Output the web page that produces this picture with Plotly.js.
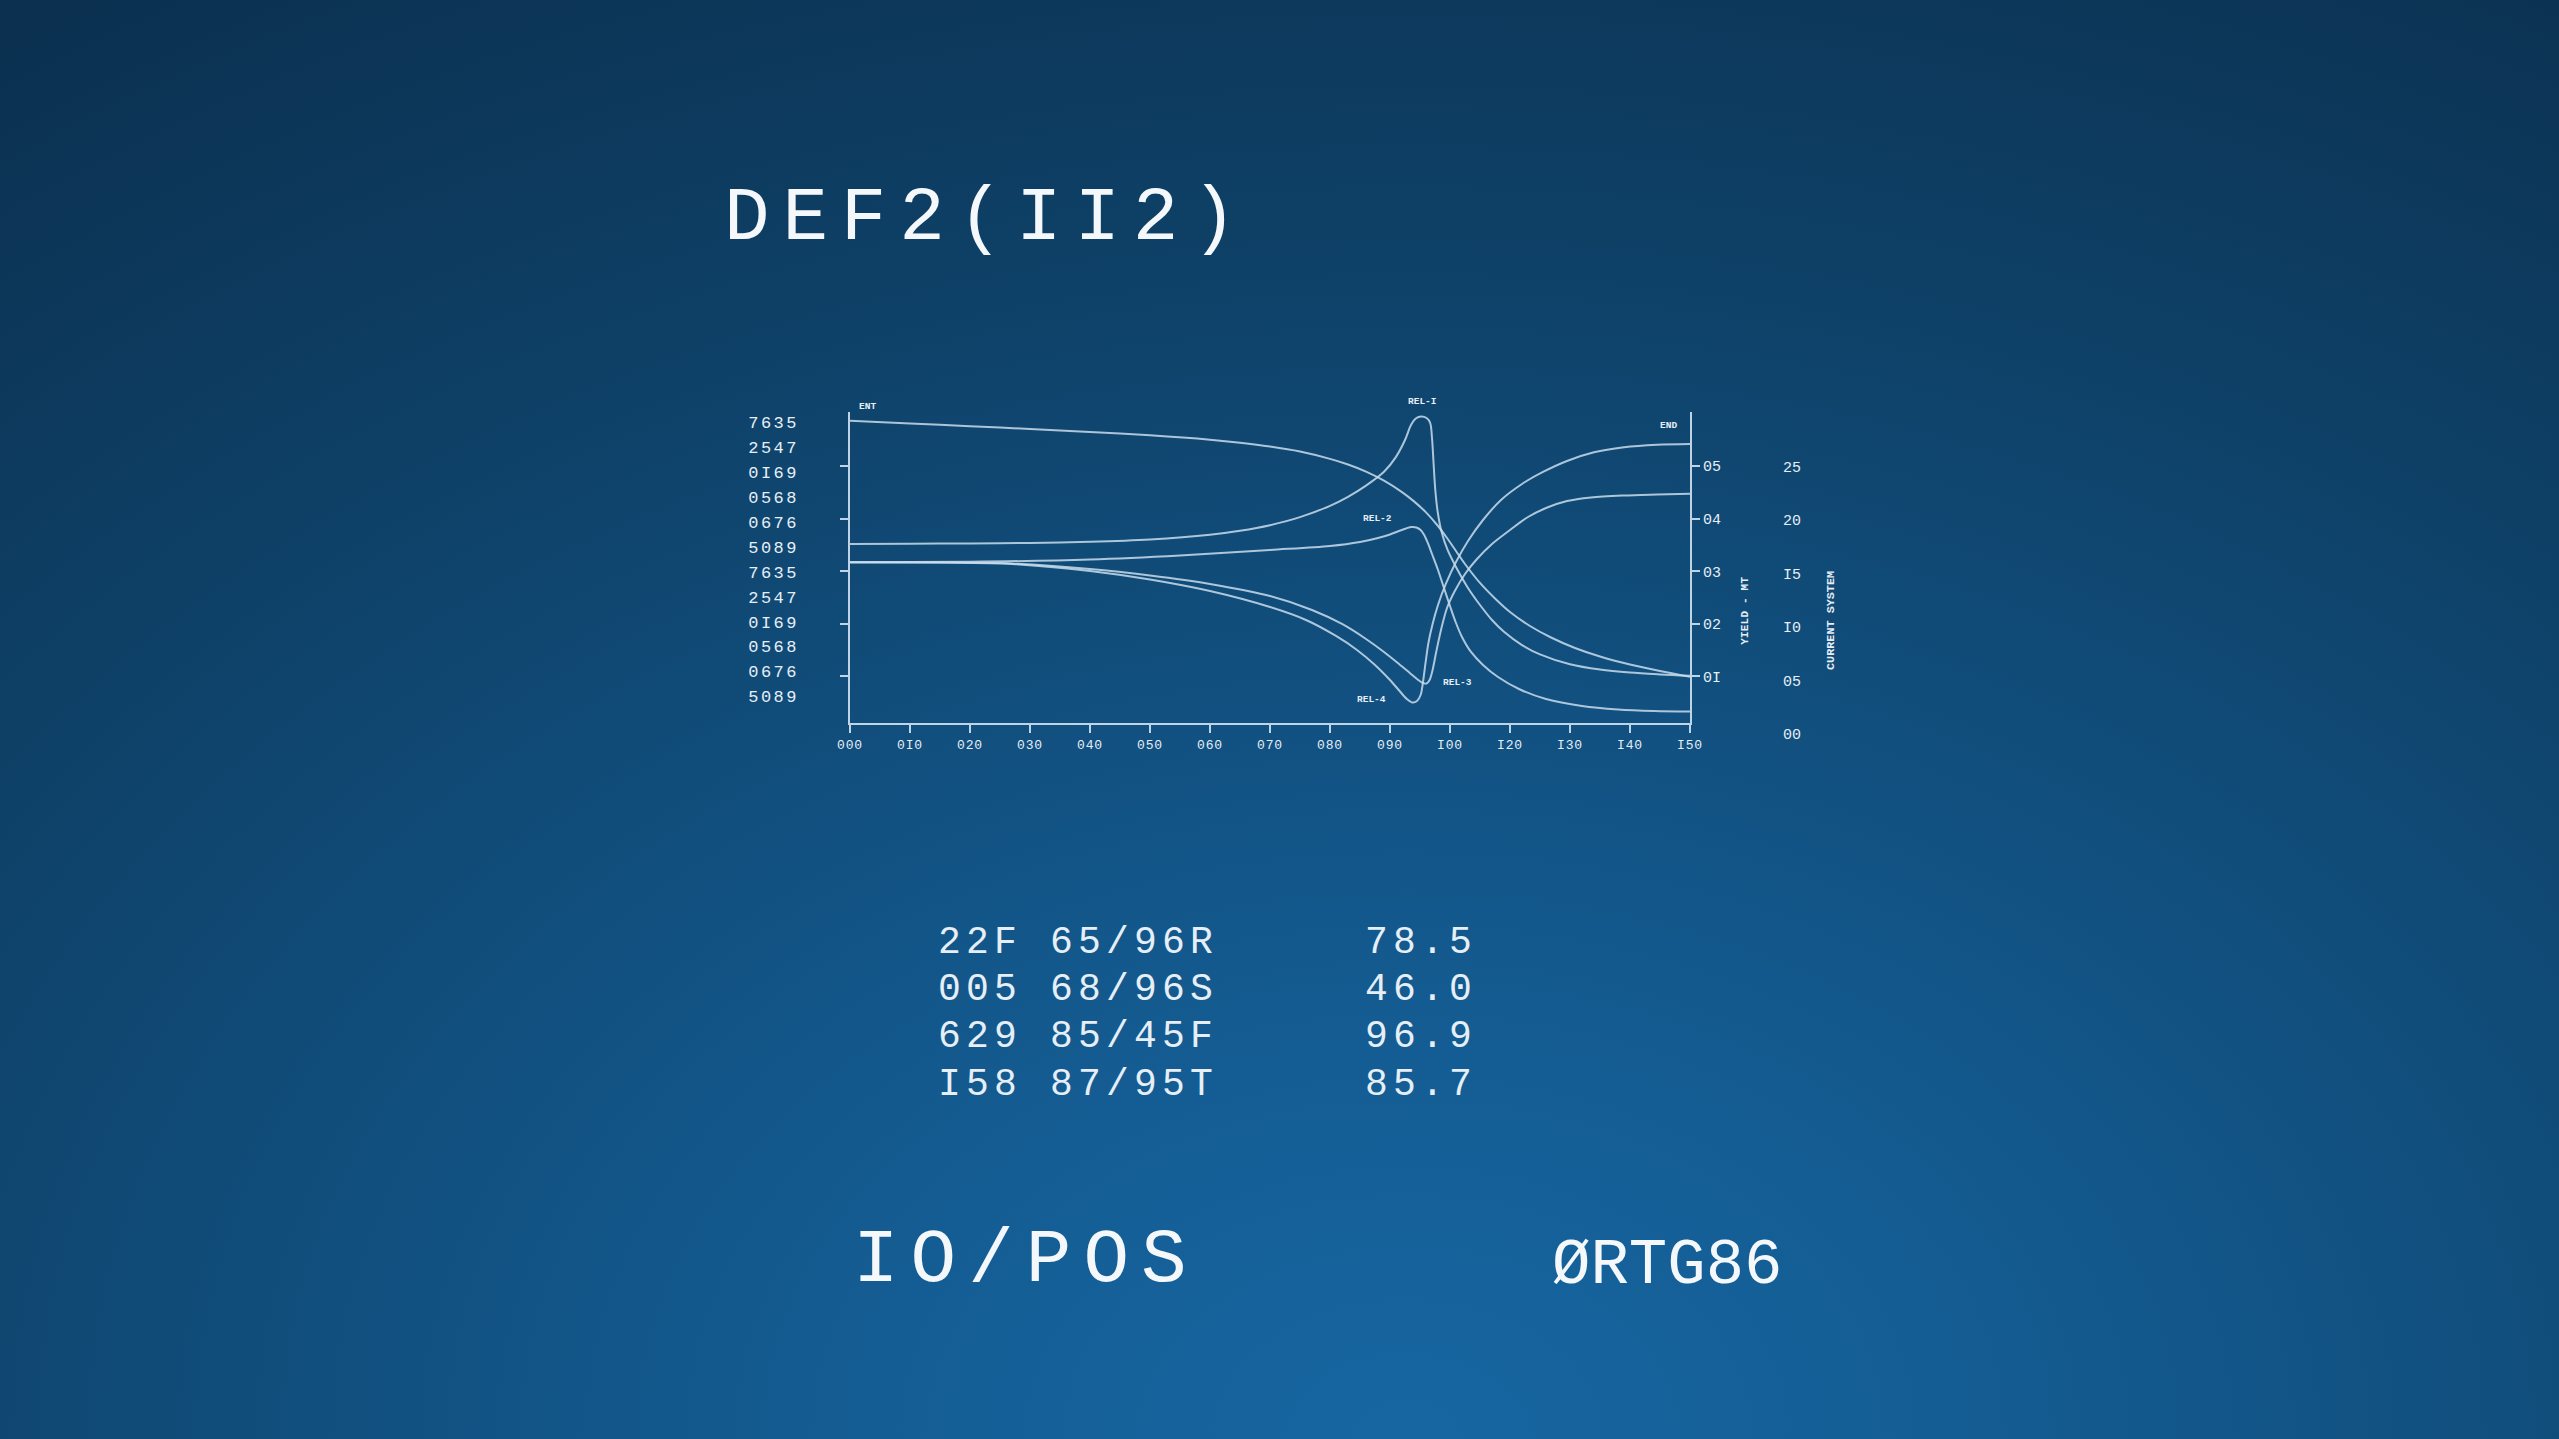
<!DOCTYPE html>
<html>
<head>
<meta charset="utf-8">
<script src="https://cdn.plot.ly/plotly-3.0.1.min.js"></script>
<style>
html,body{margin:0;padding:0;background:#0d3b60;overflow:hidden;}
#chart{width:2559px;height:1439px;
background:radial-gradient(ellipse 95% 120% at 55% 100%, #1766a2 0%, #145d94 22%, #114f7e 45%, #0e4066 70%, #0b3050 100%);}
</style>
</head>
<body>
<div id="chart"></div>
<script>
// ---------- data ----------
const xTickLabels = ['000','0I0','020','030','040','050','060','070','080','090','I00','I20','I30','I40','I50'];
const leftLabels = ['7635','2547','0I69','0568','0676','5089','7635','2547','0I69','0568','0676','5089'];
const yieldVals = [1,2,3,4,5];
const yieldLabels = ['0I','02','03','04','05'];
const currentVals = [0,5,10,15,20,25];
const currentLabels = ['00','05','I0','I5','20','25'];

const entX = [0,10,20,30,40,50,60,65,70,75,80,83,86,89,92,94,96,98,99.5,101,102.5,105,107.5,110,113.33,116.67,120.83,125,130,135,140];
const entY = [5.863,5.812,5.759,5.705,5.648,5.584,5.500,5.443,5.371,5.276,5.137,5.030,4.895,4.724,4.506,4.329,4.120,3.861,3.633,3.386,3.139,2.778,2.483,2.226,1.960,1.751,1.542,1.380,1.228,1.105,0.996];

const rel1X = [0,10,20,30,40,50,60,65,70,75,80,83,86,89,91,92.5,93.5,94.3,95.2,96.1,96.7,97.0,97.25,97.55,97.95,98.6,99.6,101,103,105,107,109,112,115,120,125,130,135,140];
const rel1Y = [3.519,3.525,3.530,3.540,3.562,3.606,3.695,3.770,3.876,4.029,4.245,4.416,4.629,4.892,5.176,5.496,5.781,5.905,5.943,5.914,5.819,5.534,5.078,4.546,4.127,3.747,3.405,3.082,2.683,2.359,2.074,1.850,1.597,1.420,1.232,1.131,1.074,1.040,1.015];

const rel2X = [0,20,40,55,70,80,85,88,90,91.5,92.67,93.6,94.4,95.1,95.7,96.3,97,98,99,100,101,102,103.5,105.5,108,111.5,116,122,128,134,140];
const rel2Y = [3.171,3.181,3.224,3.300,3.405,3.481,3.557,3.633,3.700,3.766,3.814,3.842,3.833,3.785,3.690,3.538,3.329,3.025,2.682,2.340,2.017,1.751,1.466,1.219,0.990,0.762,0.572,0.439,0.373,0.344,0.335];

const rel3X = [0,15,27,40,50,60,70,77,82,86,89,91.5,93.3,94.6,95.5,96.1,96.6,97.1,97.7,98.5,99.5,100.8,102.5,104.5,107,110,113,116,119.5,123.5,129,134.5,140];
const rel3Y = [3.171,3.167,3.148,3.044,2.920,2.759,2.530,2.264,1.998,1.713,1.466,1.238,1.067,0.943,0.876,0.867,0.933,1.124,1.466,1.884,2.302,2.625,2.949,3.234,3.519,3.784,4.032,4.203,4.335,4.403,4.441,4.460,4.475];

const rel4X = [0,15,27,40,50,60,70,76,81,84.5,87.5,90,91.6,92.8,93.7,94.5,95.1,95.5,95.9,96.4,97.1,98,99.3,101,103,105.5,108.5,112,115.5,119.5,124,129,134.5,140];
const rel4Y = [3.171,3.165,3.139,3.006,2.844,2.625,2.321,2.074,1.770,1.504,1.219,0.933,0.724,0.572,0.506,0.534,0.648,0.895,1.238,1.637,1.998,2.359,2.759,3.177,3.576,3.975,4.356,4.660,4.888,5.097,5.262,5.357,5.405,5.420];

const curveLabels = ['ENT','REL-I','REL-2','REL-3','REL-4','END'];
const tableCodes = ['22F','005','629','I58'];
const tableRefs = ['65/96R','68/96S','85/45F','87/95T'];
const tableValues = ['78.5','46.0','96.9','85.7'];
const titleText = 'DEF2(II2)';
const footLeft = 'IO/POS';
const footRight = 'ØRTG86';
const yieldTitle = 'YIELD - MT';
const currentTitle = 'CURRENT SYSTEM';

// ---------- layout helpers ----------
const W = 2559, H = 1439;
const FONT = 'Liberation Mono, DejaVu Sans Mono, monospace';
const LINE = 'rgba(200,220,236,0.85)';
const AXIS = 'rgba(205,224,240,0.92)';
const TXT = '#e6eef6';
const px = v => v / W;
const py = v => 1 - v / H;

function ann(text, x, y, size, opts) {
  return Object.assign({
    text: text, x: px(x), y: py(y), xref: 'paper', yref: 'paper',
    xanchor: 'center', yanchor: 'middle', showarrow: false,
    font: {family: FONT, size: size, color: TXT}
  }, opts || {});
}
const spaced = (t, s) => '<span style="letter-spacing:' + s + 'px">' + t + '</span>';

const curveStyle = {color: LINE, width: 2, shape: 'spline', smoothing: 0.9};
const series = [[entX, entY], [rel1X, rel1Y], [rel2X, rel2Y], [rel3X, rel3Y], [rel4X, rel4Y]];
const traces = series.map(s => ({
  x: s[0], y: s[1], mode: 'lines', line: curveStyle, hoverinfo: 'skip', showlegend: false
}));
// helper (invisible) traces so the extra axes get drawn
traces.push({x: yieldVals.map(() => 0), y: yieldVals, yaxis: 'y2', mode: 'markers', marker: {opacity: 0}, hoverinfo: 'skip', showlegend: false});
traces.push({x: currentVals.map(() => 0), y: currentVals, yaxis: 'y3', mode: 'markers', marker: {opacity: 0}, hoverinfo: 'skip', showlegend: false});
traces.push({x: leftLabels.map(() => 0), y: leftLabels.map((_, i) => i), yaxis: 'y4', mode: 'markers', marker: {opacity: 0}, hoverinfo: 'skip', showlegend: false});

const annotations = [];
annotations.push(ann(spaced(titleText, 12.8), 722, 219, 76, {xanchor: 'left', font: {family: FONT, size: 76, color: '#f4f8fb'}}));
// curve labels
const labelPos = [[867.7, 406], [1422.3, 401], [1377.3, 518.3], [1457.3, 682.3], [1371.7, 699], [1668.3, 426]];
curveLabels.forEach((t, i) => annotations.push(ann('<b>' + t + '</b>', labelPos[i][0], labelPos[i][1], 9.5)));
annotations.push(ann('<b>' + spaced(yieldTitle, 0.2) + '</b>', 1745, 610.8, 11, {textangle: -90}));
annotations.push(ann('<b>' + currentTitle + '</b>', 1831.7, 620.3, 11.8, {textangle: -90}));
// table
const rowY = [942.5, 989.7, 1036.9, 1084.1];
tableCodes.forEach((t, i) => {
  annotations.push(ann(spaced(t, 5.2), 936, rowY[i], 38, {xanchor: 'left'}));
  annotations.push(ann(spaced(tableRefs[i], 5.2), 1048, rowY[i], 38, {xanchor: 'left'}));
  annotations.push(ann(spaced(tableValues[i], 5.2), 1363, rowY[i], 38, {xanchor: 'left'}));
});
annotations.push(ann(spaced(footLeft, 12), 851, 1261, 76, {xanchor: 'left', font: {family: FONT, size: 76, color: '#f4f8fb'}}));
annotations.push(ann(footRight, 1550, 1266, 64, {xanchor: 'left', font: {family: FONT, size: 64, color: '#f4f8fb'}}));

const yDom = [1 - 723.3 / H, 1 - 411.7 / H];
const outerDom = [1 - 745 / H, 1 - 412 / H];

const layout = {
  width: W, height: H,
  margin: {l: 0, r: 0, t: 0, b: 0, pad: 0},
  paper_bgcolor: 'rgba(0,0,0,0)', plot_bgcolor: 'rgba(0,0,0,0)',
  showlegend: false, hovermode: false,
  xaxis: {
    domain: [850 / W, 1690 / W], range: [0, 140], anchor: 'y',
    showgrid: false, zeroline: false, showline: true, linecolor: AXIS, linewidth: 2,
    ticks: 'outside', ticklen: 8, tickwidth: 2, tickcolor: AXIS,
    tickmode: 'array', tickvals: xTickLabels.map((_, i) => i * 10),
    ticktext: xTickLabels.map(t => spaced(t, 0.8)),
    tickfont: {family: FONT, size: 13, color: TXT}
  },
  yaxis: {
    domain: yDom, range: [0.110, 6.034], anchor: 'x',
    showgrid: false, zeroline: false, showline: true, linecolor: AXIS, linewidth: 2,
    ticks: 'outside', ticklen: 8, tickwidth: 2, tickcolor: AXIS,
    tickmode: 'array', tickvals: yieldVals, showticklabels: false
  },
  yaxis2: {
    overlaying: 'y', side: 'right', anchor: 'x', range: [0.110, 6.034],
    showgrid: false, zeroline: false, showline: true, linecolor: AXIS, linewidth: 2,
    ticks: 'outside', ticklen: 8, tickwidth: 2, tickcolor: AXIS,
    tickmode: 'array', tickvals: yieldVals, ticktext: yieldLabels,
    tickfont: {family: FONT, size: 15, color: TXT}
  },
  yaxis3: {
    domain: outerDom, range: [-1.028, 30.093], anchor: 'free', position: 1782 / W, side: 'right',
    showgrid: false, zeroline: false, showline: false, ticks: '',
    tickmode: 'array', tickvals: currentVals, ticktext: currentLabels,
    tickfont: {family: FONT, size: 15, color: TXT}
  },
  yaxis4: {
    domain: outerDom, range: [12.955, -0.413], anchor: 'free', position: 799 / W, side: 'left',
    showgrid: false, zeroline: false, showline: false, ticks: '',
    tickmode: 'array', tickvals: leftLabels.map((_, i) => i),
    ticktext: leftLabels.map(t => spaced(t, 2.5)),
    tickfont: {family: FONT, size: 17, color: TXT}
  },
  annotations: annotations
};

Plotly.newPlot('chart', traces, layout, {staticPlot: true, displayModeBar: false});
</script>
</body>
</html>
